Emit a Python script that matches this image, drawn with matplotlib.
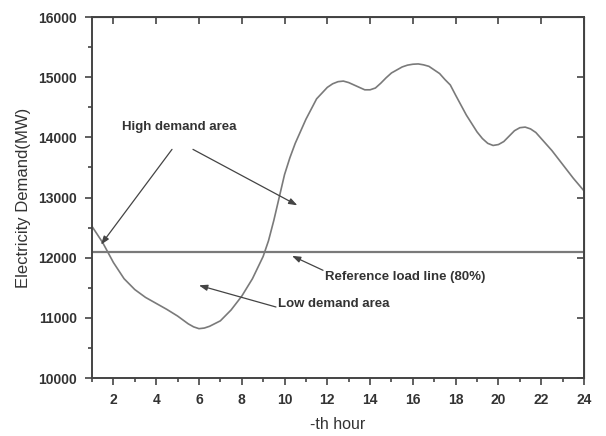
import matplotlib
matplotlib.use("Agg")
import matplotlib.pyplot as plt
from matplotlib.ticker import MultipleLocator

plt.rcParams['font.family'] = ['Liberation Sans', 'DejaVu Sans']

# demand (half / quarter hour where the curve bends)
hours = [1.0, 1.5, 2.0, 2.5, 3.0, 3.5, 4.0, 4.5, 5.0, 5.5, 5.75, 6.0, 6.25,
         6.5, 7.0, 7.5, 8.0, 8.5, 9.0, 9.25, 9.5, 9.75, 10.0, 10.25, 10.5,
         11.0, 11.5, 12.0, 12.25, 12.5, 12.75, 13.0, 13.25, 13.5, 13.75,
         14.0, 14.25, 14.5, 14.75, 15.0, 15.5, 15.75, 16.0, 16.25, 16.5,
         16.75, 17.0, 17.25, 17.5, 17.75, 18.0, 18.5, 19.0, 19.25, 19.5,
         19.75, 20.0, 20.25, 20.5, 20.75, 21.0, 21.25, 21.5, 21.75, 22.0,
         22.5, 23.0, 23.5, 24.0]
demand = [12520, 12250, 11920, 11650, 11470, 11340, 11240, 11140, 11030,
          10900, 10850, 10820, 10830, 10860, 10950, 11130, 11360, 11650,
          12020, 12280, 12620, 13000, 13380, 13660, 13900, 14300, 14640,
          14830, 14890, 14925, 14935, 14910, 14870, 14830, 14790, 14790,
          14820, 14900, 14990, 15070, 15170, 15200, 15215, 15220, 15205,
          15180, 15120, 15060, 14960, 14870, 14700, 14370, 14090, 13980,
          13900, 13865, 13880, 13930, 14020, 14110, 14160, 14170, 14140,
          14080, 13980, 13780, 13550, 13320, 13110]
ref_level = 12100
xticks = list(range(2, 25, 2))
yticks = list(range(10000, 16001, 1000))

fig = plt.figure(figsize=(6.06, 4.36), dpi=100)
ax = fig.add_axes([92/606, 1-378/436, (584-92)/606, (378-17)/436])

grey = '#7a7a7a'
ax.plot(hours, demand, color=grey, lw=1.2, solid_joinstyle='round')
ax.plot([hours[0], hours[-1]], [ref_level, ref_level], color=grey, lw=1.6)

ax.set_xlim(1, 24)
ax.set_ylim(10000, 16000)
ax.set_xticks(xticks)
ax.set_yticks(yticks)
ax.xaxis.set_minor_locator(MultipleLocator(1))
ax.yaxis.set_minor_locator(MultipleLocator(500))
ax.tick_params(which='both', direction='out', color='#444444', width=1.2)
ax.tick_params(which='major', length=5, labelsize=10, pad=6)
ax.tick_params(which='minor', length=3)
for lab in ax.get_xticklabels() + ax.get_yticklabels():
    lab.set_fontweight('bold')
    lab.set_color('#333333')
for sp in ax.spines.values():
    sp.set_color('#444444')
    sp.set_linewidth(1.4)

# mirrored ticks pointing inward on top and right
top = ax.secondary_xaxis('top')
top.set_xticks(xticks)
top.tick_params(direction='in', length=5, width=1.2, color='#444444', labeltop=False)
right = ax.secondary_yaxis('right')
right.set_yticks(yticks)
right.tick_params(direction='in', length=5, width=1.2, color='#444444', labelright=False)

ax.set_xlabel('-th hour', fontsize=11.5, color='#333333', labelpad=7)
ax.set_ylabel('Electricity Demand(MW)', fontsize=12, color='#333333', labelpad=5)

arr = dict(arrowstyle='-|>,head_length=0.5,head_width=0.18', color='#444444', lw=0.9,
           shrinkA=0, shrinkB=0)
tk = dict(fontsize=9.5, fontweight='bold', color='#333333')

ax.text(2.4, 14167, 'High demand area', va='center', ha='left', **tk)
ax.annotate('', xy=(1.42, 12217), xytext=(4.74, 13800), arrowprops=arr)
ax.annotate('', xy=(10.6, 12870), xytext=(5.72, 13800), arrowprops=arr)

ax.text(11.9, 11683, 'Reference load line (80%)', va='center', ha='left', **tk)
ax.annotate('', xy=(10.35, 12030), xytext=(11.8, 11790), arrowprops=arr)

ax.text(9.7, 11230, 'Low demand area', va='center', ha='left', **tk)
ax.annotate('', xy=(6.0, 11540), xytext=(9.6, 11180), arrowprops=arr)

fig.savefig('out.png', dpi=100)
